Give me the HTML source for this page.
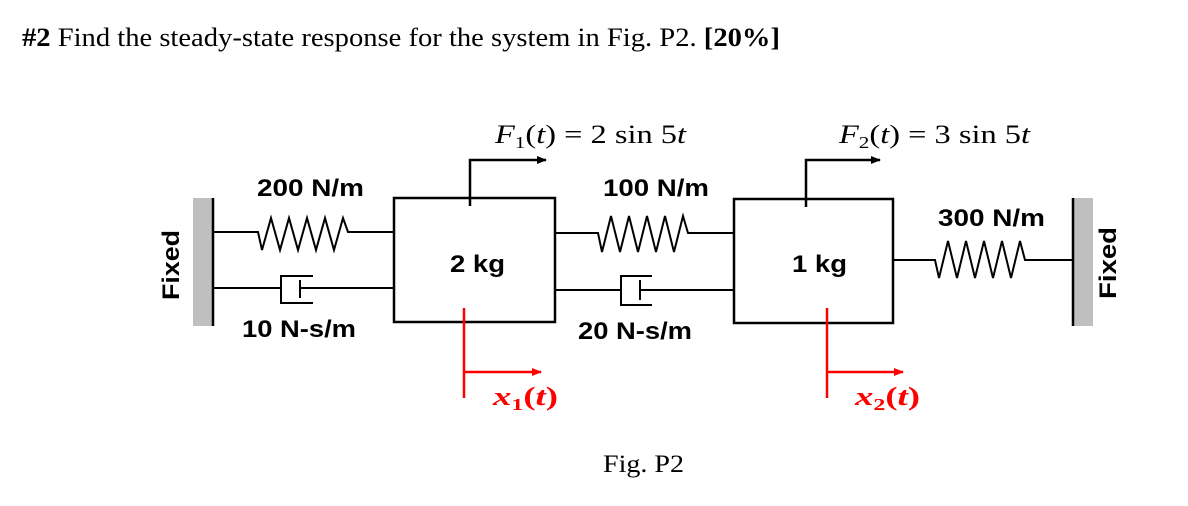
<!DOCTYPE html>
<html><head><meta charset="utf-8"><style>
html,body{margin:0;padding:0;background:#fff;}
svg{display:block;}
.lb{font-family:"Liberation Sans",Arial,sans-serif;font-weight:bold;font-size:24px;fill:#000;}
.mt{font-family:"Liberation Serif","DejaVu Serif",serif;font-size:26px;}
</style></head><body>
<svg width="1188" height="506" viewBox="0 0 1188 506" xmlns="http://www.w3.org/2000/svg">
<defs>
<marker id="ab" markerWidth="10" markerHeight="8" refX="9" refY="4" orient="auto" markerUnits="userSpaceOnUse"><path d="M0,0 L10,4 L0,8 z" fill="#000"/></marker>
<marker id="ar" markerWidth="10" markerHeight="8" refX="9" refY="4" orient="auto" markerUnits="userSpaceOnUse"><path d="M0,0 L10,4 L0,8 z" fill="#f00"/></marker>
</defs>
<text x="22" y="46" font-family="Liberation Serif,serif" font-size="26" textLength="758" lengthAdjust="spacingAndGlyphs"><tspan font-weight="bold">#2</tspan> Find the steady-state response for the system in Fig. P2. <tspan font-weight="bold">[20%]</tspan></text>

<rect x="193" y="198" width="20" height="128" fill="#bfbfbf"/>
<line x1="213" y1="198" x2="213" y2="326" stroke="#000" stroke-width="2.5"/>
<text class="lb" transform="translate(179,265) rotate(-90)" text-anchor="middle" font-size="25" textLength="70" lengthAdjust="spacingAndGlyphs">Fixed</text>
<rect x="1073" y="198" width="20" height="128" fill="#bfbfbf"/>
<line x1="1073" y1="198" x2="1073" y2="326" stroke="#000" stroke-width="2.5"/>
<text class="lb" transform="translate(1116,263) rotate(-90)" text-anchor="middle" font-size="25" textLength="72" lengthAdjust="spacingAndGlyphs">Fixed</text>

<g fill="none" stroke="#000" stroke-width="2.5">
<rect x="394" y="198" width="161" height="124"/>
<rect x="734" y="199" width="159" height="124"/>
<polyline stroke-width="2" points="213,232 258,232 262,250 271,218 280,250 289,218 298,250 307,218 316,250 325,218 334,250 343,218 348,232 394,232"/>
<polyline stroke-width="2" points="213,288 281,288"/>
<polyline stroke-width="2" points="313,276 281,276 281,303 313,303"/>
<line stroke-width="2" x1="300" y1="280" x2="300" y2="298"/>
<line stroke-width="2" x1="300" y1="288" x2="394" y2="288"/>
<polyline stroke-width="2" points="555,233 598,233 602,252 611,216 620,252 629,216 638,252 647,216 656,252 665,216 674,252 683,216 688,233 734,233"/>
<polyline stroke-width="2" points="555,290 621,290"/>
<polyline stroke-width="2" points="652,276 621,276 621,305 652,305"/>
<line stroke-width="2" x1="640" y1="280" x2="640" y2="300"/>
<line stroke-width="2" x1="640" y1="290" x2="734" y2="290"/>
<polyline stroke-width="2" points="893,260 935,260 939,278 948,241 957,278 966,241 975,278 984,241 993,278 1002,241 1011,278 1020,241 1025,260 1073,260"/>
<polyline points="470,206 470,160 546,160" marker-end="url(#ab)"/>
<polyline points="806,207 806,160 880,160" marker-end="url(#ab)"/>
</g>
<g fill="none" stroke="#f00" stroke-width="2.5">
<line x1="464" y1="308" x2="464" y2="398"/>
<line x1="464" y1="372" x2="541" y2="372" marker-end="url(#ar)"/>
<line x1="827" y1="308" x2="827" y2="398"/>
<line x1="827" y1="372" x2="903" y2="372" marker-end="url(#ar)"/>
</g>

<text class="lb" x="257" y="196" textLength="107" lengthAdjust="spacingAndGlyphs">200 N/m</text>
<text class="lb" x="242" y="337" textLength="114" lengthAdjust="spacingAndGlyphs">10 N-s/m</text>
<text class="lb" x="450" y="272" textLength="55" lengthAdjust="spacingAndGlyphs">2 kg</text>
<text class="lb" x="603" y="196" textLength="106" lengthAdjust="spacingAndGlyphs">100 N/m</text>
<text class="lb" x="578" y="339" textLength="114" lengthAdjust="spacingAndGlyphs">20 N-s/m</text>
<text class="lb" x="792" y="272" textLength="55" lengthAdjust="spacingAndGlyphs">1 kg</text>
<text class="lb" x="938" y="226" textLength="107" lengthAdjust="spacingAndGlyphs">300 N/m</text>

<text class="mt" x="495" y="143" textLength="191" lengthAdjust="spacingAndGlyphs"><tspan font-style="italic">F</tspan><tspan font-size="17" dy="5">1</tspan><tspan dy="-5">(</tspan><tspan font-style="italic">t</tspan>) = 2  sin 5<tspan font-style="italic">t</tspan></text>
<text class="mt" x="839" y="143" textLength="191" lengthAdjust="spacingAndGlyphs"><tspan font-style="italic">F</tspan><tspan font-size="17" dy="5">2</tspan><tspan dy="-5">(</tspan><tspan font-style="italic">t</tspan>) = 3  sin 5<tspan font-style="italic">t</tspan></text>

<text class="mt" x="493" y="405" fill="#f00" font-weight="bold" textLength="65" lengthAdjust="spacingAndGlyphs"><tspan font-style="italic">x</tspan><tspan font-size="17" dy="5">1</tspan><tspan dy="-5">(</tspan><tspan font-style="italic">t</tspan>)</text>
<text class="mt" x="855" y="405" fill="#f00" font-weight="bold" textLength="65" lengthAdjust="spacingAndGlyphs"><tspan font-style="italic">x</tspan><tspan font-size="17" dy="5">2</tspan><tspan dy="-5">(</tspan><tspan font-style="italic">t</tspan>)</text>

<text x="603" y="472" font-family="Liberation Serif,serif" font-size="25" textLength="81" lengthAdjust="spacingAndGlyphs">Fig. P2</text>
</svg>
</body></html>
